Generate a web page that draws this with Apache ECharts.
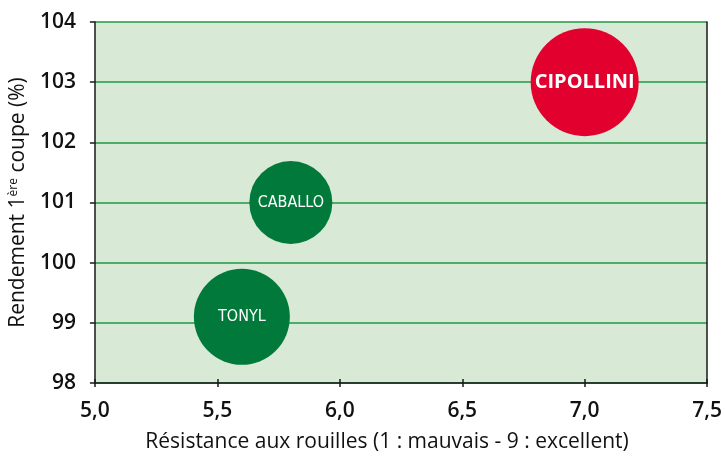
<!DOCTYPE html>
<html>
<head>
<meta charset="utf-8">
<script src="https://cdn.jsdelivr.net/npm/echarts@6/dist/echarts.min.js"></script>
<style>html,body{margin:0;padding:0;background:#fff}#c{width:725px;height:460px}</style>
</head>
<body>
<div id="c"></div>
<script>
const varieties = ["TONYL", "CABALLO", "CIPOLLINI"];
const resistance = [5.6, 5.8, 7.0];
const rendement = [99.1, 101.0, 103.0];
const bubbleWeight = [96, 83, 108];
const xTicks = [5.0, 5.5, 6.0, 6.5, 7.0, 7.5];
const yTicks = [98, 99, 100, 101, 102, 103, 104];
const colors = ["#00793a", "#00793a", "#e2002f"];

const FONT = "'Open Sans', 'Noto Sans', sans-serif";
const NARROW = "'DejaVu Sans Condensed', sans-serif";
const chart = echarts.init(document.getElementById('c'), null, {renderer: 'canvas'});

const data = varieties.map((n, i) => ({
  name: n,
  value: [resistance[i], rendement[i], bubbleWeight[i]],
  itemStyle: {color: colors[i], opacity: 1},
  label: n === "CIPOLLINI"
    ? {fontFamily: FONT, fontWeight: 'bold', fontSize: 20}
    : {fontFamily: NARROW, fontWeight: 'normal', fontSize: 16}
}));

const axisFont = {color: '#111', fontSize: 21, fontFamily: FONT, fontWeight: 600};

chart.setOption({
  animation: false,
  grid: {left: 93, right: 13, top: 22, bottom: 77, show: true, backgroundColor: '#d8ead6', borderWidth: 0},
  xAxis: [{
    type: 'value', min: xTicks[0], max: xTicks[xTicks.length - 1], interval: 0.5,
    position: 'bottom',
    axisLine: {show: true, onZero: false, lineStyle: {color: '#1a1a1a', width: 1.5}},
    axisTick: {show: true, length: 4, lineStyle: {color: '#1a1a1a', width: 1.5}},
    splitLine: {show: false},
    axisLabel: Object.assign({formatter: v => v.toFixed(1).replace('.', ','), margin: 18}, axisFont),
    name: 'Résistance aux rouilles (1 : mauvais - 9 : excellent)',
    nameLocation: 'middle', nameGap: 49,
    nameTextStyle: {color: '#111', fontSize: 21, fontFamily: FONT, fontWeight: 500, padding: [0, 28, 0, 0]}
  }, {
    type: 'value', min: xTicks[0], max: xTicks[xTicks.length - 1], interval: 0.5,
    position: 'bottom', offset: 0,
    axisLine: {show: false},
    axisTick: {show: true, inside: true, length: 4, lineStyle: {color: '#1a1a1a', width: 1.5}},
    axisLabel: {show: false}, splitLine: {show: false}
  }],
  yAxis: [{
    type: 'value', min: yTicks[0], max: yTicks[yTicks.length - 1], interval: 1,
    axisLine: {show: true, onZero: false, lineStyle: {color: '#1a1a1a', width: 1.5}},
    axisTick: {show: true, length: 5, lineStyle: {color: '#1a1a1a', width: 1.5}},
    splitLine: {show: true, lineStyle: {color: '#1f9a45', width: 1.5}},
    axisLabel: Object.assign({margin: 19}, axisFont),
    name: '{a|Rendement 1}{s|ère}{a| coupe (%)}',
    nameLocation: 'middle', nameGap: 60, nameRotate: 90,
    nameTextStyle: {
      color: '#111', fontSize: 21, fontFamily: FONT, fontWeight: 500,
      rich: {
        a: {color: '#111', fontSize: 21, fontFamily: FONT, fontWeight: 500},
        s: {color: '#111', fontSize: 12, fontFamily: FONT, fontWeight: 500, verticalAlign: 'top', padding: [0, 0, 9, 0]}
      }
    }
  }, {
    type: 'value', min: yTicks[0], max: yTicks[yTicks.length - 1], interval: 1,
    position: 'right',
    axisLine: {show: true, onZero: false, lineStyle: {color: '#1a1a1a', width: 1.5}},
    axisTick: {show: false}, axisLabel: {show: false}, splitLine: {show: false}
  }],
  series: [{
    type: 'scatter',
    data: data,
    symbolSize: v => v[2],
    label: {show: true, position: 'inside', formatter: p => p.name, color: '#fff'},
    emphasis: {disabled: true}
  }]
});
</script>
</body>
</html>
